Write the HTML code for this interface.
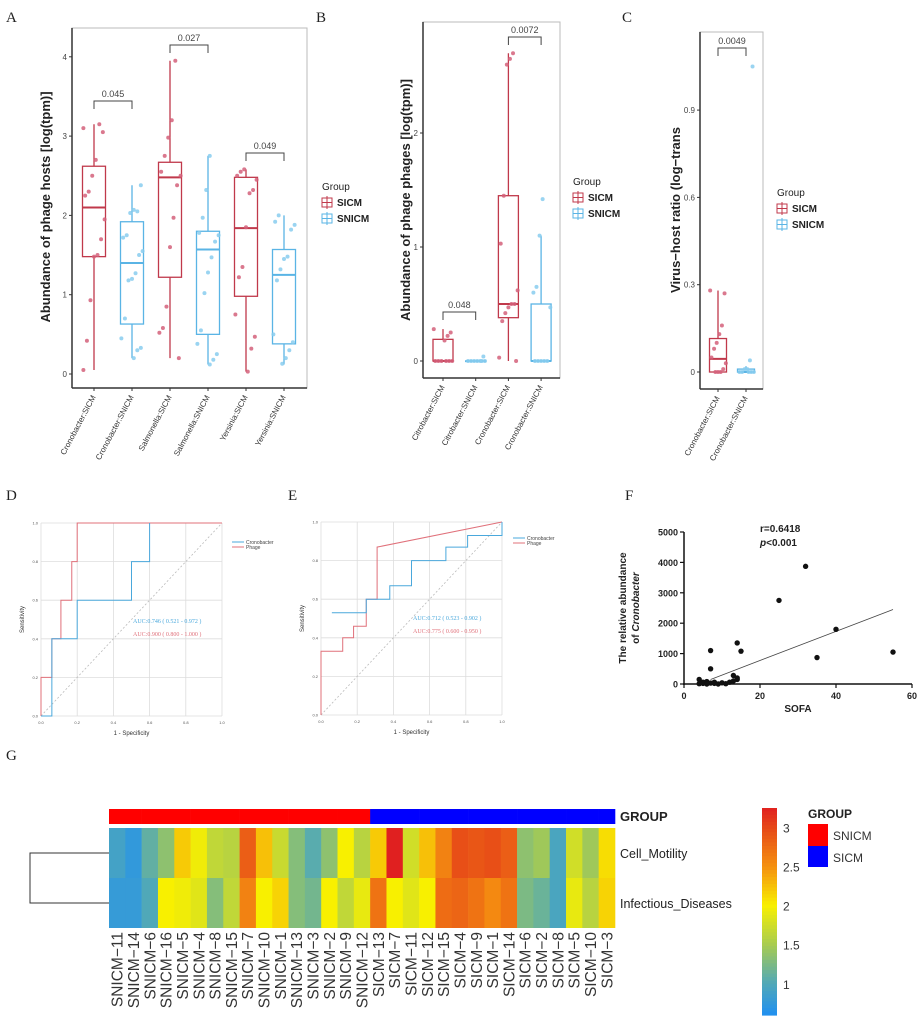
<!DOCTYPE html>
<html><head><meta charset="utf-8"><style>
html,body{margin:0;padding:0;background:#fff;}
svg{display:block;font-family:"Liberation Sans",sans-serif;}
</style></head><body>
<svg id="fig" width="923" height="1023" viewBox="0 0 923 1023" xmlns="http://www.w3.org/2000/svg"></svg>
<script>
// ---------- DATA ----------
const aCategories=["Cronobacter:SICM","Cronobacter:SNICM","Salmonella:SICM","Salmonella:SNICM","Yersinia:SICM","Yersinia:SNICM"];
const aStats=[[0.05,1.48,2.1,2.62,3.15],[0.2,0.63,1.4,1.92,2.38],[0.2,1.22,2.48,2.67,3.95],[0.12,0.5,1.57,1.8,2.75],[0.03,0.98,1.84,2.48,2.58],[0.12,0.38,1.25,1.57,2.0]];
const aPoints=[[3.1,3.05,3.15,2.7,2.5,2.3,2.25,1.95,1.7,1.5,1.48,0.93,0.42,0.05],[2.38,2.05,2.07,2.03,1.75,1.72,1.55,1.5,1.27,1.2,1.18,0.7,0.45,0.33,0.3,0.2],[3.95,3.2,2.98,2.75,2.55,2.5,2.38,1.97,1.6,0.85,0.58,0.52,0.2],[2.75,2.32,1.97,1.78,1.75,1.67,1.47,1.28,1.02,0.55,0.38,0.25,0.18,0.12],[2.58,2.55,2.5,2.45,2.32,2.28,1.85,1.35,1.22,0.75,0.47,0.32,0.03],[2.0,1.92,1.88,1.82,1.48,1.45,1.32,1.18,0.5,0.4,0.3,0.2,0.13]];
const aPvals=["0.045","0.027","0.049"];
const aTicks=[0,1,2,3,4];
const bCategories=["Citrobacter:SICM","Citrobacter:SNICM","Cronobacter:SICM","Cronobacter:SNICM"];
const bStats=[[0,0,0,0.19,0.28],[0,0,0,0,0],[0,0.38,0.5,1.45,2.7],[0,0,0,0.5,1.1]];
const bPoints=[[0.28,0.25,0.22,0.18,0,0,0,0,0,0],[0.04,0,0,0,0,0,0,0],[2.7,2.65,2.6,1.45,1.03,0.62,0.5,0.5,0.47,0.42,0.35,0.03,0],[1.42,1.1,0.65,0.6,0.47,0,0,0,0,0]];
const bPvals=["0.048","0.0072"];
const bTicks=[0,1,2];
const cCategories=["Cronobacter:SICM","Cronobacter:SNICM"];
const cStats=[[0,0,0.045,0.115,0.28],[0,0,0,0.01,0.02]];
const cPoints=[[0.28,0.27,0.16,0.13,0.1,0.08,0.05,0.03,0.01,0,0,0],[1.05,0.04,0.01,0.01,0,0,0,0,0]];
const cPvals=["0.0049"];
const cTicks=[0,0.3,0.6,0.9];
const dRed=[[0,0],[0,0.2],[0.06,0.2],[0.06,0.4],[0.11,0.4],[0.11,0.6],[0.17,0.6],[0.17,0.8],[0.2,0.8],[0.2,1],[1,1]];
const dBlue=[[0,0],[0.06,0],[0.06,0.4],[0.2,0.4],[0.2,0.6],[0.5,0.6],[0.5,0.8],[0.6,0.8],[0.6,1]];
const eRed=[[0,0],[0,0.33],[0.12,0.33],[0.12,0.4],[0.18,0.4],[0.18,0.46],[0.25,0.46],[0.25,0.6],[0.31,0.6],[0.31,0.87],[1,1]];
const eBlue=[[0.06,0.53],[0.25,0.53],[0.25,0.6],[0.38,0.6],[0.38,0.67],[0.5,0.67],[0.5,0.8],[0.69,0.8],[0.69,0.87],[0.81,0.87],[0.81,0.93],[1,0.93],[1,1]];
const rocTicks=[0,0.2,0.4,0.6,0.8,1.0];
const fSofa=[7,7,14,15,25,32,35,40,55,13,14,4,5,5,6,6,7,8,8,9,10,11,12,13,14,4,6];
const fAbund=[1100,500,1350,1080,2750,3870,870,1800,1050,280,150,150,60,20,10,80,30,20,60,0,40,10,60,100,200,10,0];
const fLine=[[7,150],[55,2450]];
const fXTicks=[0,20,40,60];
const fYTicks=[0,1000,2000,3000,4000,5000];
const gColumns=["SNICM−11","SNICM−14","SNICM−6","SNICM−16","SNICM−5","SNICM−4","SNICM−8","SNICM−15","SNICM−7","SNICM−10","SNICM−1","SNICM−13","SNICM−3","SNICM−2","SNICM−9","SNICM−12","SICM−13","SICM−7","SICM−11","SICM−12","SICM−15","SICM−4","SICM−9","SICM−1","SICM−14","SICM−6","SICM−2","SICM−8","SICM−5","SICM−10","SICM−3"];
const gRows=["Cell_Motility","Infectious_Diseases"];
const gRow1=[0.9,0.75,1.1,1.35,2.2,1.95,1.65,1.6,2.85,2.25,1.7,1.3,1.05,1.35,2.0,1.6,2.2,3.25,1.75,2.25,2.6,2.95,2.9,2.95,2.85,1.35,1.45,0.95,1.75,1.45,2.1];
const gRow2=[0.78,0.78,1.0,2.0,1.95,1.85,1.3,1.65,2.6,2.0,2.15,1.3,1.2,2.0,1.65,1.9,2.7,2.0,1.85,2.0,2.75,2.8,2.7,2.55,2.7,1.25,1.15,0.95,1.9,1.6,2.15];
const gLegendTicks=[1,1.5,2,2.5,3];

// ---------- HELPERS ----------
const svg=document.getElementById('fig');
const NS='http://www.w3.org/2000/svg';
function mk(tag,attrs,parent){const e=document.createElementNS(NS,tag);for(const k in attrs)e.setAttribute(k,attrs[k]);(parent||svg).appendChild(e);return e;}
function txt(s,attrs,parent){const e=mk('text',attrs,parent);e.textContent=s;return e;}
const RED='#c0394b',BLUE='#5ab4e5',PRED='#d4607a',PBLUE='#88cdee';

function boxPanel(o){
  const g=mk('g',{});
  
  
  const y=v=>o.y0-(v-o.vmin)*o.ppu;
  const fr=mk('rect',{x:o.left,y:o.top,width:o.right-o.left,height:o.bottom-o.top,fill:'none',stroke:'#bbb','stroke-width':1},g);
  
  mk('line',{x1:o.left,y1:o.top,x2:o.left,y2:o.bottom,stroke:'#333','stroke-width':1.5},g);
  mk('line',{x1:o.left,y1:o.bottom,x2:o.right,y2:o.bottom,stroke:'#333','stroke-width':1.5},g);
  o.ticks.forEach(t=>{
    mk('line',{x1:o.left-3,y1:y(t),x2:o.left,y2:y(t),stroke:'#333'},g);
    const tl=txt(String(t),{x:o.left-5,y:y(t)+3,'font-size':8,'text-anchor':'end',fill:'#444'},g);
    
  });
  o.cats.forEach((c,i)=>{
    const cx=o.cx0+i*o.step, col=i%2?BLUE:RED, pc=i%2?PBLUE:PRED, s=o.stats[i];
    mk('line',{x1:cx,y1:o.bottom,x2:cx,y2:o.bottom+3,stroke:'#333'},g);
    const wl=mk('line',{x1:cx,y1:y(s[0]),x2:cx,y2:y(s[4]),stroke:col,'stroke-width':1.3},g);
    
    const bx=mk('rect',{x:cx-o.bw/2,y:y(s[3]),width:o.bw,height:Math.max(0.5,y(s[1])-y(s[3])),fill:'#fff',stroke:col,'stroke-width':1.3},g);
    
    mk('line',{x1:cx-o.bw/2,y1:y(s[2]),x2:cx+o.bw/2,y2:y(s[2]),stroke:col,'stroke-width':2},g);
    o.pts[i].forEach((v,j)=>{
      const jx=(((j*37+i*11)%13)-6)*o.bw/13;
      const p=mk('circle',{cx:cx+jx,cy:y(v),r:2,fill:pc,opacity:0.85},g);
      
    });
    const lab=txt(c,{x:cx+2,y:o.bottom+9,'font-size':8,'text-anchor':'end',fill:'#333',transform:`rotate(-62 ${cx+2} ${o.bottom+9})`},g);
    
  });
  o.brackets.forEach((b,k)=>{
    const x1=o.cx0+b.i*o.step,x2=x1+o.step,by=b.y;
    mk('path',{d:`M${x1},${by+8}V${by}H${x2}V${by+8}`,fill:'none',stroke:'#444','stroke-width':1},g);
    const pt=txt(o.pvals[k],{x:(x1+x2)/2,y:by-4,'font-size':9,'text-anchor':'middle',fill:'#444'},g);
    
  });
  const yt=txt(o.ytitle,{x:o.ytx,y:o.yty,'font-size':13,'font-weight':'bold','text-anchor':'middle',fill:'#222',transform:`rotate(-90 ${o.ytx} ${o.yty})`},g);
  
  const lg=mk('g',{},g);
  txt('Group',{x:o.lx,y:o.ly,'font-size':10,fill:'#222'},lg);
  [['SICM',RED],['SNICM',BLUE]].forEach((e,k)=>{
    const yy=o.ly+16+k*16;
    const it=mk('g',{},lg);
    mk('rect',{x:o.lx,y:yy-8,width:10,height:9,fill:'none',stroke:e[1]},it);
    mk('line',{x1:o.lx,y1:yy-3.5,x2:o.lx+10,y2:yy-3.5,stroke:e[1]},it);
    mk('line',{x1:o.lx+5,y1:yy-10,x2:o.lx+5,y2:yy+3,stroke:e[1]},it);
    txt(e[0],{x:o.lx+15,y:yy,'font-size':10,'font-weight':'bold',fill:'#222'},it);
  });
}

function panelLetter(s,x,y){const t=txt(s,{x,y,'font-size':15,'font-family':'"Liberation Serif",serif',fill:'#222'});}

// ---------- A B C ----------
panelLetter('A',6,22);panelLetter('B',316,22);panelLetter('C',622,22);
boxPanel({name:'panel-a-boxplot',left:72,right:307,top:28,bottom:388,y0:374,vmin:0,ppu:79.3,ticks:aTicks,cats:aCategories,cx0:94,step:38,bw:23,stats:aStats,pts:aPoints,
  brackets:[{i:0,y:101},{i:2,y:45},{i:4,y:153}],pvals:aPvals,ytitle:'Abundance of phage hosts [log(tpm)]',ytx:50,yty:207,lx:322,ly:190});
boxPanel({name:'panel-b-boxplot',left:423,right:560,top:22,bottom:378,y0:361,vmin:0,ppu:114,ticks:bTicks,cats:bCategories,cx0:443,step:32.7,bw:20,stats:bStats,pts:bPoints,
  brackets:[{i:0,y:312},{i:2,y:37}],pvals:bPvals,ytitle:'Abundance of phage phages [log(tpm)]',ytx:410,yty:200,lx:573,ly:185});
boxPanel({name:'panel-c-boxplot',left:700,right:763,top:32,bottom:389,y0:372,vmin:0,ppu:291,ticks:cTicks,cats:cCategories,cx0:718,step:28,bw:17,stats:cStats,pts:cPoints,
  brackets:[{i:0,y:48}],pvals:cPvals,ytitle:'Virus−host ratio (log−trans',ytx:680,yty:210,lx:777,ly:196});

// ---------- ROC D E ----------
function roc(o){
  const g=mk('g',{});
  const X=v=>o.l+v*(o.r-o.l),Y=v=>o.b-v*(o.b-o.t);
  rocTicks.forEach(t=>{
    mk('line',{x1:X(t),y1:o.t,x2:X(t),y2:o.b,stroke:'#ddd','stroke-width':0.8},g);
    mk('line',{x1:o.l,y1:Y(t),x2:o.r,y2:Y(t),stroke:'#ddd','stroke-width':0.8},g);
    txt(t.toFixed(1),{x:X(t),y:o.b+8,'font-size':4,'text-anchor':'middle',fill:'#555'},g);
    txt(t.toFixed(1),{x:o.l-3,y:Y(t)+1.5,'font-size':4,'text-anchor':'end',fill:'#555'},g);
  });
  mk('line',{x1:X(0),y1:Y(0),x2:X(1),y2:Y(1),stroke:'#bbb','stroke-dasharray':'2,2','stroke-width':0.8},g);
  const pr=mk('polyline',{points:o.red.map(p=>X(p[0])+','+Y(p[1])).join(' '),fill:'none',stroke:'#e0707a','stroke-width':1},g);
  
  const pb=mk('polyline',{points:o.blue.map(p=>X(p[0])+','+Y(p[1])).join(' '),fill:'none',stroke:'#4aa8dc','stroke-width':1},g);
  
  txt(o.aucB,{x:o.ax,y:o.ay,'font-size':6,'font-family':'"Liberation Serif",serif',fill:'#4aa8dc'},g);
  txt(o.aucR,{x:o.ax,y:o.ay+13,'font-size':6,'font-family':'"Liberation Serif",serif',fill:'#e0707a'},g);
  const yl=txt('Sensitivity',{x:o.l-17,y:(o.t+o.b)/2,'font-size':6,'text-anchor':'middle',fill:'#333',transform:`rotate(-90 ${o.l-17} ${(o.t+o.b)/2})`},g);
  
  const xl=txt('1 - Specificity',{x:(o.l+o.r)/2,y:o.b+19,'font-size':6,'text-anchor':'middle',fill:'#333'},g);
  
  const lg=mk('g',{},g);
  mk('line',{x1:o.lx,y1:o.ly,x2:o.lx+12,y2:o.ly,stroke:'#4aa8dc'},lg);
  mk('line',{x1:o.lx,y1:o.ly+5,x2:o.lx+12,y2:o.ly+5,stroke:'#e0707a'},lg);
  txt('Cronobacter',{x:o.lx+14,y:o.ly+2,'font-size':5,fill:'#444'},lg);
  txt('Phage',{x:o.lx+14,y:o.ly+7,'font-size':5,fill:'#444'},lg);
}
panelLetter('D',6,500);panelLetter('E',288,500);
roc({name:'panel-d-roc',l:41,r:222,t:523,b:716,red:dRed,blue:dBlue,aucB:'AUC:0.746 ( 0.521 - 0.972 )',aucR:'AUC:0.900 ( 0.800 - 1.000 )',ax:133,ay:623,lx:232,ly:542});
roc({name:'panel-e-roc',l:321,r:502,t:522,b:715,red:eRed,blue:eBlue,aucB:'AUC:0.712 ( 0.523 - 0.902 )',aucR:'AUC:0.775 ( 0.600 - 0.950 )',ax:413,ay:620,lx:513,ly:538});

// ---------- F scatter ----------
(function(){
  panelLetter('F',625,500);
  const g=mk('g',{});
  const ox=684,oy=684,X=v=>ox+v*(912-684)/60,Y=v=>oy-v*(684-532)/5000;
  mk('line',{x1:ox,y1:oy+1,x2:ox,y2:Y(5000),stroke:'#111','stroke-width':1.5},g);
  mk('line',{x1:ox-1,y1:oy,x2:X(60),y2:oy,stroke:'#111','stroke-width':1.5},g);
  fYTicks.forEach(t=>{mk('line',{x1:ox-4,y1:Y(t),x2:ox,y2:Y(t),stroke:'#111','stroke-width':1.2},g);
    txt(String(t),{x:ox-6,y:Y(t)+3.5,'font-size':9,'font-weight':'bold','text-anchor':'end',fill:'#222'},g);});
  fXTicks.forEach(t=>{mk('line',{x1:X(t),y1:oy,x2:X(t),y2:oy+4,stroke:'#111','stroke-width':1.2},g);
    txt(String(t),{x:X(t),y:oy+15,'font-size':9,'font-weight':'bold','text-anchor':'middle',fill:'#222'},g);});
  const ln=mk('line',{x1:X(fLine[0][0]),y1:Y(fLine[0][1]),x2:X(fLine[1][0]),y2:Y(fLine[1][1]),stroke:'#444','stroke-width':0.8},g);
  
  fSofa.forEach((s,i)=>{const p=mk('circle',{cx:X(s),cy:Y(fAbund[i]),r:2.7,fill:'#111'},g);
    });
  txt('r=0.6418',{x:760,y:532,'font-size':10,'font-weight':'bold',fill:'#222'},g);
  const pt=txt('',{x:760,y:546,'font-size':10,'font-weight':'bold',fill:'#222'},g);
  const it=mk('tspan',{'font-style':'italic'},pt);it.textContent='p';const r=mk('tspan',{},pt);r.textContent='<0.001';
  const yt=txt('',{x:626,y:608,'font-size':10,'font-weight':'bold','text-anchor':'middle',fill:'#222',transform:'rotate(-90 626 608)'},g);
  
  const t1=mk('tspan',{x:626,dy:0},yt);t1.textContent='The relative abundance';
  const t2=mk('tspan',{x:626,dy:13},yt);t2.textContent='of ';const t3=mk('tspan',{'font-style':'italic'},yt);t3.textContent='Cronobacter';
  const xt=txt('SOFA',{x:798,y:712,'font-size':10,'font-weight':'bold','text-anchor':'middle',fill:'#222'},g);
  
})();

// ---------- G heatmap ----------
(function(){
  panelLetter('G',6,760);
  const g=mk('g',{});
  const stops=[[0.6,[32,144,240]],[1.0,[80,168,184]],[1.5,[168,204,80]],[2.0,[248,240,0]],[2.5,[245,144,16]],[3.0,[230,72,24]],[3.25,[224,32,32]]];
  function color(v){v=Math.max(0.6,Math.min(3.25,v));for(let i=1;i<stops.length;i++){if(v<=stops[i][0]){const a=stops[i-1],b=stops[i],t=(v-a[0])/(b[0]-a[0]);
    return 'rgb('+a[1].map((c,k)=>Math.round(c+(b[1][k]-c)*t)).join(',')+')';}}return 'rgb(224,32,32)';}
  const x0=109,x1=615,n=gColumns.length,cw=(x1-x0)/n,rowT=[828,878],rh=50;
  gColumns.forEach((c,i)=>{
    const grp=mk('rect',{x:x0+i*cw,y:809,width:cw+0.3,height:15,fill:c.startsWith('SNICM')?'#ff0000':'#0000ff'},g);
    
    [gRow1,gRow2].forEach((row,r)=>{
      const cell=mk('rect',{x:x0+i*cw,y:rowT[r],width:cw+0.3,height:rh,fill:color(row[i])},g);
      
    });
    const cx=x0+i*cw+cw/2+5.5;
    const l=txt(c,{x:cx,y:932,'font-size':15.5,'text-anchor':'end',fill:'#333',transform:`rotate(-90 ${cx} 932)`},g);
    
  });
  const gt=txt('GROUP',{x:620,y:821,'font-size':13,'font-weight':'bold',fill:'#222'},g);
  gRows.forEach((r,k)=>{const t=txt(r,{x:620,y:rowT[k]+30,'font-size':12.5,fill:'#222'},g);});
  const d=mk('path',{d:'M109,853H30V903H109',fill:'none',stroke:'#333','stroke-width':1},g);
  
  const lg=mk('g',{},g);
  const top=808,bot=1015,vmax=3.25,vmin=0.6,Yc=v=>top+(vmax-v)/(vmax-vmin)*(bot-top);
  for(let k=0;k<60;k++){const v=vmax-(k+0.5)*(vmax-vmin)/60;mk('rect',{x:762,y:top+k*(bot-top)/60,width:15,height:(bot-top)/60+0.6,fill:color(v)},lg);}
  gLegendTicks.forEach(t=>txt(String(t),{x:783,y:Yc(t)+5,'font-size':12,fill:'#333'},lg));
  const gl=mk('g',{},g);
  txt('GROUP',{x:808,y:818,'font-size':12,'font-weight':'bold',fill:'#222'},gl);
  mk('rect',{x:808,y:824,width:20,height:22,fill:'#ff0000'},gl);
  mk('rect',{x:808,y:846,width:20,height:21,fill:'#0000ff'},gl);
  txt('SNICM',{x:833,y:840,'font-size':12,fill:'#333'},gl);
  txt('SICM',{x:833,y:862,'font-size':12,fill:'#333'},gl);
})();
</script>
</body></html>
